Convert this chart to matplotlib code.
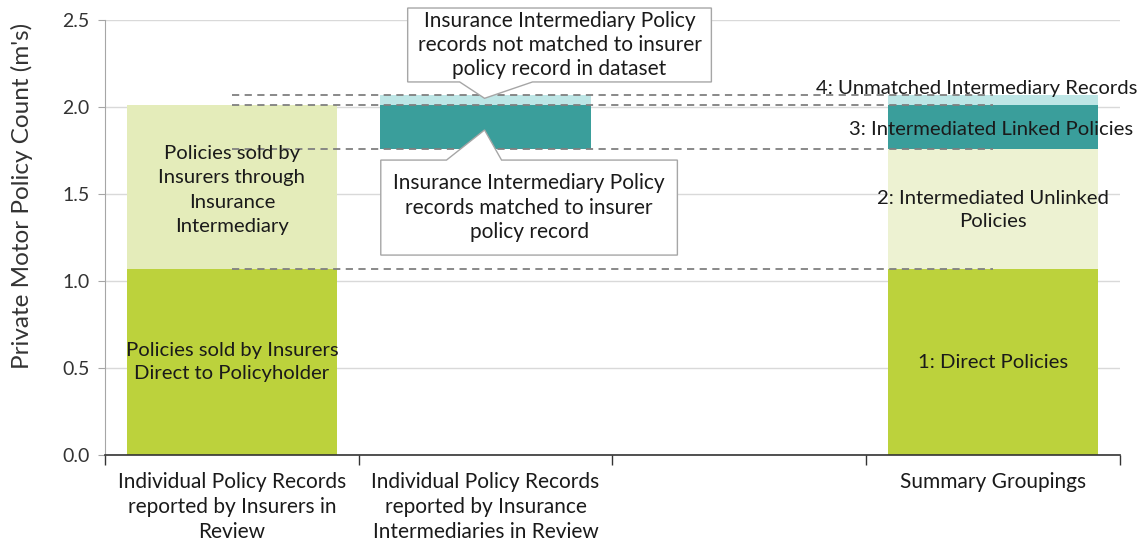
import matplotlib.pyplot as plt
import numpy as np
from matplotlib.path import Path
from matplotlib.patches import PathPatch

plt.rcParams['font.family'] = ['Lato', 'DejaVu Sans']

# === Données ===
categories = [
    "Individual Policy Records\nreported by Insurers in\nReview",
    "Individual Policy Records\nreported by Insurance\nIntermediaries in Review",
    "",
    "Summary Groupings",
]
invisible = [0.0, 1.76, 0.0, 0.0]      # base cachée de la barre flottante
direct = [1.07, 0.0, 0.0, 1.07]
intermediated = [0.94, 0.0, 0.0, 0.69]
linked = [0.0, 0.25, 0.0, 0.25]
unmatched = [0.0, 0.06, 0.0, 0.06]

labels_bar1 = ["Policies sold by Insurers\nDirect to Policyholder",
               "Policies sold by\nInsurers through\nInsurance\nIntermediary"]
labels_bar4 = ["1: Direct Policies",
               "2: Intermediated Unlinked\nPolicies",
               "3: Intermediated Linked Policies",
               "4: Unmatched Intermediary Records"]
callout_top = "Insurance Intermediary Policy\nrecords not matched to insurer\npolicy record in dataset"
callout_bottom = "Insurance Intermediary Policy\nrecords matched to insurer\npolicy record"

# === Couleurs ===
vert = '#BCD23C'
vert_clair = ['#E4ECBA', '#E4ECBA', '#E4ECBA', '#EDF2D2']
teal = '#3A9E9B'
teal_clair = '#BEE6E6'

fig = plt.figure(figsize=(11.41, 5.41), dpi=100)
ax = fig.add_axes([0.092, 0.159, 0.8895, 0.804])

x = np.arange(len(categories))
w = 0.83
b = np.array(invisible)
ax.bar(x, direct, w, bottom=b, color=vert, zorder=2)
b = b + np.array(direct)
ax.bar(x, intermediated, w, bottom=b, color=vert_clair, zorder=2)
b = b + np.array(intermediated)
ax.bar(x, linked, w, bottom=b, color=teal, zorder=2)
b = b + np.array(linked)
ax.bar(x, unmatched, w, bottom=b, color=teal_clair, zorder=2)

# lignes pointillées entre barres 1 et 4
niveaux = np.cumsum([direct[3], intermediated[3], linked[3], unmatched[3]])
for niv in niveaux:
    ax.plot([x[0], x[3]], [niv, niv], color='#808080', linestyle=(0, (4, 3)),
            linewidth=1.3, zorder=3)

# étiquettes des barres
fs = 14.6
kw = dict(ha='center', va='center', fontsize=fs, color='#1a1a1a', zorder=4)
ax.text(x[0], 0.535, labels_bar1[0], linespacing=1.42, **kw)
ax.text(x[0], 1.523, labels_bar1[1], linespacing=1.53, **kw)
ax.text(x[3], 0.529, labels_bar4[0], **kw)
ax.text(x[3], 1.408, labels_bar4[1], linespacing=1.42, **kw)
ax.text(x[3] - 0.006, 1.868, labels_bar4[2], **kw)
ax.text(x[3] - 0.065, 2.109, labels_bar4[3], **kw)


def bulle(x0, x1, y0, y1, base0, base1, pointe, en_bas):
    # rectangle avec une pointe (bulle de type Excel)
    if en_bas:
        pts = [(x0, y1), (x1, y1), (x1, y0), (base1, y0), pointe, (base0, y0), (x0, y0), (x0, y1)]
    else:
        pts = [(x0, y0), (x1, y0), (x1, y1), (base1, y1), pointe, (base0, y1), (x0, y1), (x0, y0)]
    codes = [Path.MOVETO] + [Path.LINETO] * (len(pts) - 2) + [Path.CLOSEPOLY]
    patch = PathPatch(Path(pts, codes), facecolor='white', edgecolor='#A6A6A6',
                      linewidth=1.0, zorder=5, clip_on=False)
    ax.add_patch(patch)


bulle(0.693, 1.89, 2.144, 2.569, 0.898, 1.185, (0.996, 2.05), True)
ax.text((0.693 + 1.89) / 2, (2.144 + 2.569) / 2, callout_top, ha='center', va='center',
        fontsize=15, color='#1a1a1a', zorder=6, linespacing=1.27)
bulle(0.587, 1.756, 1.149, 1.695, 0.846, 1.063, (0.996, 1.868), False)
ax.text((0.587 + 1.756) / 2, (1.149 + 1.695) / 2, callout_bottom, ha='center', va='center',
        fontsize=15, color='#1a1a1a', zorder=6, linespacing=1.27)

# axes
ax.set_xlim(-0.5, 3.5)
ax.set_ylim(0, 2.5)
ax.set_yticks(np.arange(0, 2.51, 0.5))
ax.set_yticklabels([f"{v:.1f}" for v in np.arange(0, 2.51, 0.5)], fontsize=14, color='#333333')
ax.set_ylabel("Private Motor Policy Count (m's)", fontsize=17.5, color='#333333')
ax.yaxis.set_label_coords(-0.071, 0.596)
ax.yaxis.grid(True, color='#D9D9D9', linewidth=1.0, zorder=0)
ax.set_axisbelow(True)
ax.tick_params(axis='y', length=5, color='#A6A6A6', pad=6)

ax.set_xticks(x)
ax.set_xticklabels(categories, fontsize=15, color='#1a1a1a', linespacing=1.33)
ax.set_xticks(np.arange(-0.5, 3.6, 1), minor=True)
ax.tick_params(axis='x', which='major', length=0, pad=12)
ax.tick_params(axis='x', which='minor', length=7, color='#333333', width=1)

for s in ['top', 'right']:
    ax.spines[s].set_visible(False)
ax.spines['left'].set_color('#A6A6A6')
ax.spines['bottom'].set_color('#333333')
ax.spines['bottom'].set_linewidth(1.2)

plt.savefig('out.png', dpi=100)
plt.close()
